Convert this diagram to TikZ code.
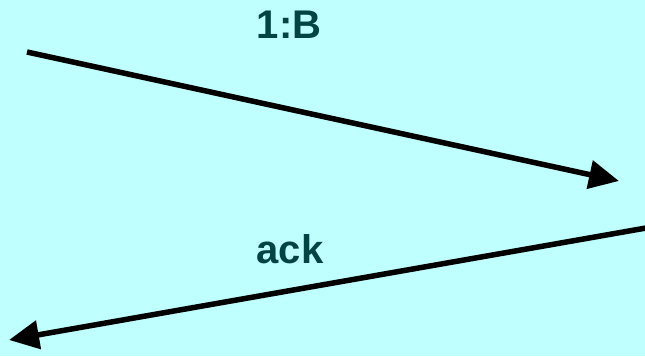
\documentclass[tikz,border=0pt]{standalone}
\usepackage{fontspec}
\setmainfont{Liberation Sans}
\usetikzlibrary{arrows.meta}
\definecolor{bg}{HTML}{BFFFFE}
\definecolor{txt}{HTML}{004444}
\tikzset{
  msg/.style={line width=5.5pt, -{Triangle[length=30pt,width=28pt]}},
  lbl/.style={text=txt, font=\bfseries\fontsize{40}{46}\selectfont, inner sep=0pt}
}
\begin{document}
\begin{tikzpicture}[x=1pt,y=-1pt]
\fill[bg] (0,0) rectangle (645,356);
\useasboundingbox (0,0) rectangle (645,356);
\coordinate (a1) at (27,52);
\coordinate (b1) at (619,181);
\coordinate (a2) at (646,228);
\coordinate (b2) at (9,340);
\draw[msg] (a1) -- (b1);
\draw[msg] (a2) -- (b2);
\node[lbl] (l1) at (289,25) {1:B};
\node[lbl] (l2) at (290,249) {ack};
\end{tikzpicture}
\end{document}
